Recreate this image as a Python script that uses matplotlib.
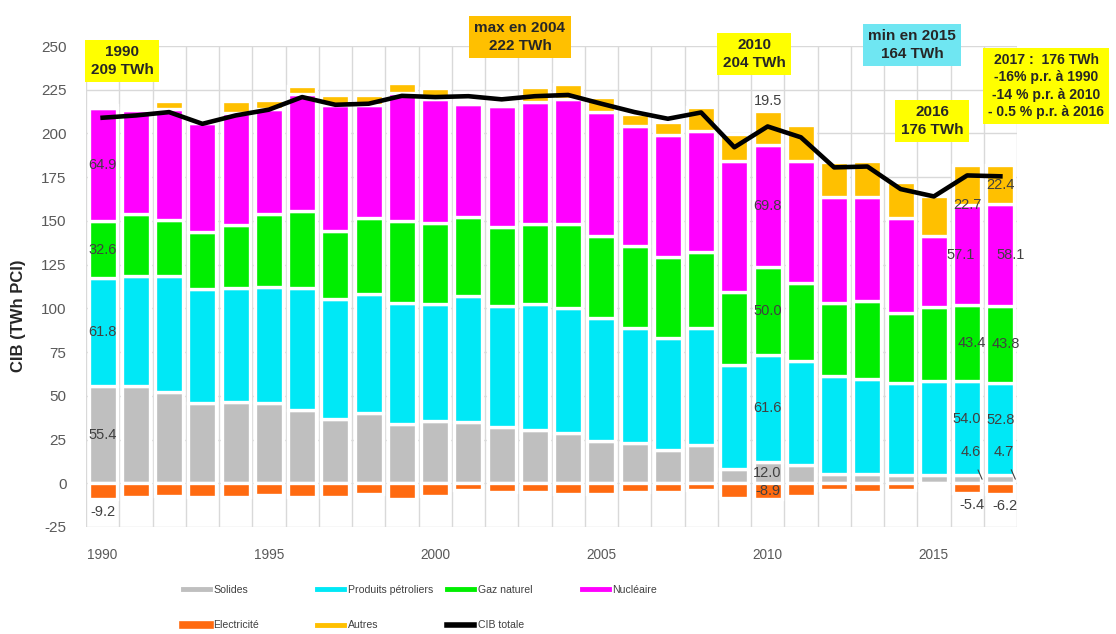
import matplotlib
matplotlib.use("Agg")
import matplotlib.pyplot as plt
from matplotlib.lines import Line2D
import numpy as np

plt.rcParams["font.family"] = ["Liberation Sans", "DejaVu Sans"]
plt.rcParams["axes.unicode_minus"] = False

# Données (TWh PCI)
annees = list(range(1990, 2018))
solides = [55.4, 55.5, 52.0, 46.0, 46.5, 46.0, 42.0, 36.5, 40.0, 34.0, 35.5, 35.0, 32.0, 30.7,
           29.0, 24.0, 23.3, 19.3, 22.1, 8.0, 12.0, 10.5, 5.5, 5.5, 5.0, 4.5, 4.6, 4.7]
petrole = [61.8, 63.2, 66.7, 65.2, 65.3, 66.4, 69.8, 69.0, 68.4, 69.2, 67.1, 72.2, 69.4, 71.9,
           71.3, 70.6, 65.6, 63.8, 66.8, 59.6, 61.6, 59.4, 55.8, 54.1, 52.3, 54.0, 54.0, 52.8]
gaz = [32.6, 35.0, 32.0, 32.5, 36.0, 41.5, 44.0, 38.5, 43.5, 47.0, 46.0, 45.0, 45.0, 45.5,
       48.0, 47.0, 47.0, 46.0, 43.5, 42.0, 50.0, 44.5, 42.0, 44.5, 40.0, 42.0, 43.4, 43.8]
nucleaire = [64.9, 59.8, 63.0, 62.3, 64.0, 59.8, 66.5, 72.5, 64.6, 73.1, 71.2, 64.9, 69.2, 69.8,
             71.5, 70.6, 68.3, 70.0, 68.8, 74.4, 69.8, 69.6, 60.6, 59.8, 54.1, 41.1, 57.1, 58.1]
autres = [1.5, 1.5, 5.0, 1.5, 6.5, 5.7, 4.8, 5.2, 5.2, 5.7, 6.3, 1.5, 1.5, 8.8,
          8.7, 8.7, 7.1, 7.4, 14.0, 15.8, 19.5, 20.6, 19.6, 20.6, 20.7, 22.8, 22.7, 22.4]
electricite = [-9.2, -7.8, -7.2, -7.6, -8.0, -6.6, -7.6, -8.0, -6.0, -9.0, -7.2, -3.6, -4.8, -5.0,
               -6.0, -6.0, -4.8, -4.8, -3.6, -8.4, -8.9, -7.2, -3.6, -4.8, -3.6, -0.5, -5.4, -6.2]
cib_totale = [209.0, 210.3, 212.2, 205.5, 210.3, 213.6, 220.8, 216.4, 217.0, 221.5, 220.8, 221.3,
              219.5, 221.3, 222.0, 217.0, 212.2, 208.4, 212.0, 192.1, 204.0, 197.8, 180.6, 181.1,
              168.2, 164.0, 176.0, 175.5]
annees_etiquetees = [1990, 2010, 2016, 2017]

couleurs = {
    "Solides": "#bfbfbf",
    "Produits pétroliers": "#00e8f6",
    "Gaz naturel": "#00ee00",
    "Nucléaire": "#ff00ff",
    "Electricité": "#ff6a10",
    "Autres": "#ffc000",
}

W, H = 1116, 634
fig = plt.figure(figsize=(W / 100, H / 100), dpi=100)
ax = fig.add_axes([86 / W, 1 - 527 / H, (1017 - 86) / W, (527 - 46) / H])

x = np.array(annees)
s = np.array(solides)
p = np.array(petrole)
g = np.array(gaz)
n = np.array(nucleaire)
a = np.array(autres)
e = np.array(electricite)

larg = 0.84
kw = dict(width=larg, edgecolor="white", linewidth=2.4, zorder=2)
ax.bar(x, s, color=couleurs["Solides"], **kw)
ax.bar(x, p, bottom=s, color=couleurs["Produits pétroliers"], **kw)
ax.bar(x, g, bottom=s + p, color=couleurs["Gaz naturel"], **kw)
ax.bar(x, n, bottom=s + p + g, color=couleurs["Nucléaire"], **kw)
ax.bar(x, a, bottom=s + p + g + n, color=couleurs["Autres"], **kw)
ax.bar(x, e, color=couleurs["Electricité"], **kw)
ax.plot(x, cib_totale, color="black", lw=3.3, zorder=5, solid_joinstyle="round")

# axes et grille
ax.set_xlim(1989.5, 2017.5)
ax.set_ylim(-25, 250)
ax.set_yticks(np.arange(-25, 251, 25))
ax.set_xticks([1990, 1995, 2000, 2005, 2010, 2015])
ax.set_xticks(np.arange(1989.5, 2017.6, 1), minor=True)
ax.grid(axis="y", which="major", color="#d9d9d9", lw=1, zorder=0)
ax.grid(axis="x", which="minor", color="#d9d9d9", lw=1, zorder=0)
for sp in ax.spines.values():
    sp.set_visible(False)
ax.tick_params(axis="both", which="both", length=0)
ax.tick_params(axis="y", labelsize=11, labelcolor="#595959", pad=14)
ax.tick_params(axis="x", labelsize=9.8, labelcolor="#595959", pad=15)

fig.text(18.5 / W, 1 - 316 / H, "CIB (TWh PCI)", rotation=90, ha="center", va="center",
         fontsize=12, fontweight="bold", color="#262626")

# étiquettes de données
lab_kw = dict(ha="center", va="center", fontsize=10.5, color="#404040", zorder=6)
for yr in annees_etiquetees:
    i = annees.index(yr)
    base = [0, s[i], s[i] + p[i], s[i] + p[i] + g[i], s[i] + p[i] + g[i] + n[i]]
    vals = [s[i], p[i], g[i], n[i], a[i]]
    dx_nuc = {2016: -0.2, 2017: 0.3}.get(yr, 0)
    dy_oil = 5 if yr >= 2016 else 0
    # solides
    if yr >= 2016:
        ax.annotate(f"{s[i]:.1f}", xy=(yr + 0.45, s[i] / 2), xytext=(yr + 0.1, s[i] + 13),
                    arrowprops=dict(arrowstyle="-", color="#404040", lw=0.8,
                                    shrinkA=6, shrinkB=0), **lab_kw)
    else:
        ax.text(yr, base[0] + vals[0] / 2, f"{s[i]:.1f}", **lab_kw)
    ax.text(yr, base[1] + vals[1] / 2 + dy_oil, f"{p[i]:.1f}", **lab_kw)
    ax.text(yr + (0.15 if yr >= 2016 else 0), base[2] + vals[2] / 2, f"{g[i]:.1f}", **lab_kw)
    ax.text(yr + dx_nuc, base[3] + vals[3] / 2, f"{n[i]:.1f}", **lab_kw)
    if yr == 2010:
        ax.text(yr, base[4] + vals[4] + 1.5, f"{a[i]:.1f}", **{**lab_kw, "va": "bottom"})
        ax.text(yr, e[i] / 2, f"{e[i]:.1f}", **lab_kw)
    elif yr == 2016:
        ax.text(yr, base[4], f"{a[i]:.1f}", **lab_kw)
    elif yr == 2017:
        ax.text(yr, base[4] + vals[4] / 2, f"{a[i]:.1f}", **lab_kw)
    if yr != 2010:
        ax.text(yr + (0.15 if yr >= 2016 else 0), e[i] - 3, f"{e[i]:.1f}",
                **{**lab_kw, "va": "top"})

# encadrés
boites = [
    ((122, 61), "1990\n209 TWh", "#ffff00", 11),
    ((520, 37), "max en 2004\n222 TWh", "#ffc000", 11),
    ((754, 54), "2010\n204 TWh", "#ffff00", 11),
    ((912, 45), "min en 2015\n164 TWh", "#6fe6f2", 11),
    ((932, 121), "2016\n176 TWh", "#ffff00", 11),
    ((1046, 86), "2017 :  176 TWh\n-16% p.r. à 1990\n-14 % p.r. à 2010\n- 0.5 % p.r. à 2016",
     "#ffff00", 10.1),
]
for (px, py), txt, col, fs in boites:
    fig.text(px / W, 1 - py / H, txt, ha="center", va="center", fontsize=fs,
             fontweight="bold", color="#262626", linespacing=1.3,
             bbox=dict(boxstyle="square,pad=0.35", fc=col, ec="none"), zorder=10)

# légende
colonnes = [
    (183, [("Solides", couleurs["Solides"], 3.5), ("Electricité", couleurs["Electricité"], 5.5)]),
    (317, [("Produits pétroliers", couleurs["Produits pétroliers"], 3.5),
           ("Autres", couleurs["Autres"], 3.5)]),
    (447, [("Gaz naturel", couleurs["Gaz naturel"], 3.5), ("CIB totale", "black", 4)]),
    (582, [("Nucléaire", couleurs["Nucléaire"], 3.5)]),
]
for cx, items in colonnes:
    handles = [Line2D([0], [0], color=c, lw=lw) for _, c, lw in items]
    labels = [t for t, _, _ in items]
    leg = fig.legend(handles, labels, loc="upper left", bbox_to_anchor=(cx / W, 1 - 585 / H),
                     frameon=False, borderpad=0, borderaxespad=0, handlelength=2.6,
                     handletextpad=0.3, labelspacing=2.4, prop={"size": 7.6})
    for t in leg.get_texts():
        t.set_color("#404040")

fig.savefig("out.png", dpi=100)
